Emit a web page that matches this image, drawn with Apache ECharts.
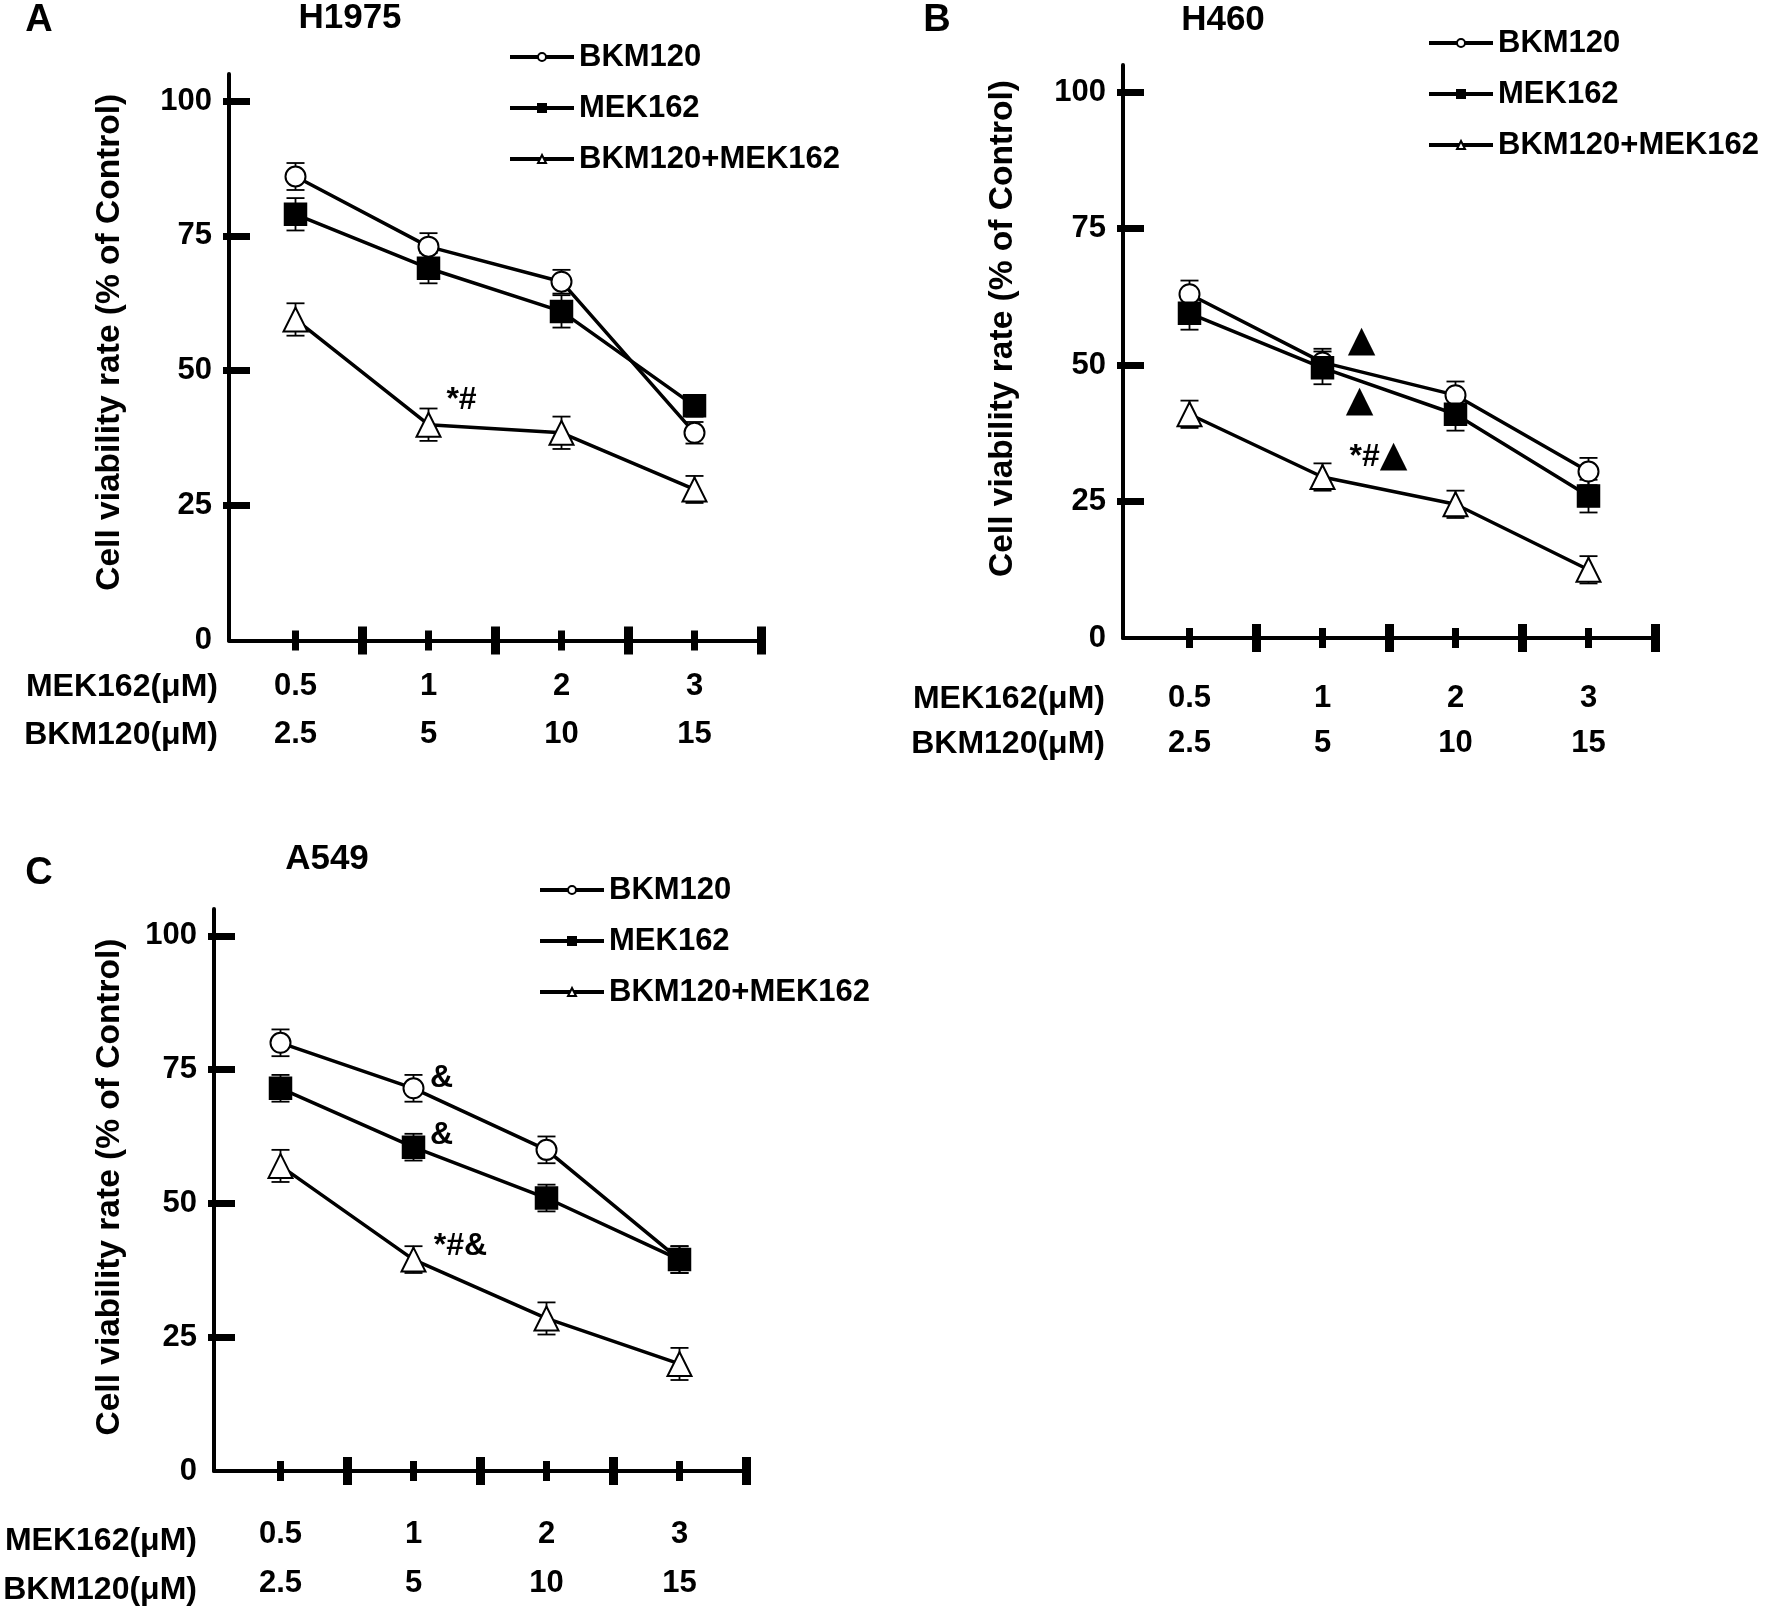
<!DOCTYPE html>
<html style="height: 100%">
<head>
<meta charset="utf-8">
</head>
<body style="height: 100%; margin: 0; background: #fff">
<div id="container" style="width: 1768px; height: 1608px"></div>
<script type="text/javascript" src="https://cdn.jsdelivr.net/npm/echarts@6/dist/echarts.min.js"></script>
<script type="text/javascript">

// dose categories (x axis)
var mekDoses = ['0.5', '1', '2', '3'];
var bkmDoses = ['2.5', '5', '10', '15'];
var seriesNames = ['BKM120', 'MEK162', 'BKM120+MEK162'];
var yTicks = [0, 25, 50, 75, 100];

// H1975
var h1975Bkm = [86, 73, 66.5, 38.5];
var h1975BkmErr = [2.5, 2.5, 2.2, 2];
var h1975Mek = [79, 69, 61, 43.5];
var h1975MekErr = [3, 2.8, 3, 2];
var h1975Combo = [59.5, 40, 38.5, 28];
var h1975ComboErr = [3, 3, 3, 2.5];

// H460
var h460Bkm = [63, 50.5, 44.5, 30.5];
var h460BkmErr = [2.5, 2.5, 2.5, 2.5];
var h460Mek = [59.5, 49.5, 41, 26];
var h460MekErr = [3, 3, 3, 3];
var h460Combo = [41, 29.5, 24.5, 12.5];
var h460ComboErr = [2.5, 2.5, 2.5, 2.5];

// A549
var a549Bkm = [80, 71.5, 60, 39.5];
var a549BkmErr = [2.5, 2.5, 2.5, 2.5];
var a549Mek = [71.5, 60.5, 51, 39.5];
var a549MekErr = [2.5, 2.5, 2.5, 2.5];
var a549Combo = [57, 39.5, 28.5, 20];
var a549ComboErr = [3, 2.5, 3, 3];

var FONT = '"Liberation Sans", Arial, sans-serif';

var panels = [
    {
        letter: 'A', title: 'H1975',
        series: [h1975Bkm, h1975Mek, h1975Combo],
        errs: [h1975BkmErr, h1975MekErr, h1975ComboErr],
        notes: [
            {s: 2, i: 1, text: '*#', dx: 33, dy: -25}
        ],
        grid: {left: 229, top: 74, width: 532, height: 566.5},
        legend: {left: 503, top: 35},
        letterPos: [39, 21], titlePos: [350, 18],
        nameGap: 102, namePad: 30, labelMargin: 22, labelLineHeight: 48,
        rowLabelX: 218, rowLabelY: [687, 735]
    },
    {
        letter: 'B', title: 'H460',
        series: [h460Bkm, h460Mek, h460Combo],
        errs: [h460BkmErr, h460MekErr, h460ComboErr],
        notes: [
            {s: 1, i: 1, text: '▲', dx: 39, dy: -26},
            {s: 1, i: 1, text: '▲', dx: 37, dy: 34},
            {s: 2, i: 1, text: '*#▲', dx: 56, dy: -20}
        ],
        grid: {left: 1123, top: 65, width: 532, height: 573},
        legend: {left: 1422, top: 21},
        letterPos: [937, 21], titlePos: [1223, 20],
        nameGap: 103, namePad: 46, labelMargin: 38, labelLineHeight: 45,
        rowLabelX: 1105, rowLabelY: [699, 744]
    },
    {
        letter: 'C', title: 'A549',
        series: [a549Bkm, a549Mek, a549Combo],
        errs: [a549BkmErr, a549MekErr, a549ComboErr],
        notes: [
            {s: 0, i: 1, text: '&', dx: 28, dy: -10},
            {s: 1, i: 1, text: '&', dx: 28, dy: -12},
            {s: 2, i: 1, text: '*#&', dx: 47, dy: -13}
        ],
        grid: {left: 214, top: 909, width: 532, height: 569},
        legend: {left: 533, top: 868},
        letterPos: [39, 874], titlePos: [327, 859],
        nameGap: 87, namePad: 6, labelMargin: 39, labelLineHeight: 49,
        rowLabelX: 197, rowLabelY: [1541, 1590]
    }
];

var symbols = ['emptyCircle', 'rect', 'emptyTriangle'];
var symbolSizes = [20, 22, 24];

var option = {
    backgroundColor: '#fff',
    animation: false,
    textStyle: {fontFamily: FONT},
    grid: [], xAxis: [], yAxis: [], legend: [], series: [], graphic: []
};

panels.forEach(function (p, k) {
    option.grid.push(p.grid);
    var xBase = k * 3, yBase = k * 2;

    // main x axis with the two rows of dose labels
    option.xAxis.push({
        gridIndex: k, type: 'category', position: 'bottom', data: mekDoses, boundaryGap: true,
        axisLine: {show: true, onZero: false, lineStyle: {color: '#000', width: 4}},
        axisTick: {show: false},
        axisLabel: {
            color: '#000', fontSize: 31, fontWeight: 'bold', fontFamily: FONT,
            margin: p.labelMargin, lineHeight: p.labelLineHeight,
            formatter: function (v, i) { return v + '\n' + bkmDoses[i]; }
        }
    });
    // big ticks at band boundaries, crossing the axis
    option.xAxis.push({
        gridIndex: k, type: 'category', position: 'bottom', data: mekDoses, boundaryGap: true, offset: 14,
        axisLine: {show: false, onZero: false}, axisLabel: {show: false},
        axisTick: {show: true, inside: true, length: 28, lineStyle: {color: '#000', width: 9},
            interval: function (i) { return i > 0; }}
    });
    // small ticks at category centres
    option.xAxis.push({
        gridIndex: k, type: 'category', position: 'bottom', data: mekDoses, boundaryGap: true, offset: 10,
        axisLine: {show: false, onZero: false}, axisLabel: {show: false},
        axisTick: {show: true, inside: true, length: 20, alignWithLabel: true, interval: 0,
            lineStyle: {color: '#000', width: 7}}
    });

    option.yAxis.push({
        gridIndex: k, type: 'value', position: 'left', min: 0, max: 105, interval: 25,
        name: 'Cell viability rate (% of Control)', nameLocation: 'middle', nameGap: p.nameGap,
        nameTextStyle: {color: '#000', fontSize: 33.5, fontWeight: 'bold', fontFamily: FONT,
            padding: [0, 0, 0, p.namePad]},
        axisLine: {show: true, onZero: false, lineStyle: {color: '#000', width: 4}},
        axisTick: {show: false},
        splitLine: {show: false},
        axisLabel: {color: '#000', fontSize: 31, fontWeight: 'bold', fontFamily: FONT, margin: 17,
            customValues: yTicks}
    });
    option.yAxis.push({
        gridIndex: k, type: 'value', position: 'left', min: 0, max: 105, interval: 25, offset: 6,
        axisLine: {show: false, onZero: false}, axisLabel: {show: false}, splitLine: {show: false},
        axisTick: {show: true, inside: true, length: 27, lineStyle: {color: '#000', width: 7},
            customValues: yTicks.slice(1)}
    });

    option.legend.push({
        orient: 'vertical', left: p.legend.left, top: p.legend.top,
        itemWidth: 64, itemHeight: 10, itemGap: 17,
        data: seriesNames,
        lineStyle: {width: 4},
        textStyle: {color: '#000', fontSize: 31, fontWeight: 'bold', fontFamily: FONT, lineHeight: 34},
        selectedMode: false
    });

    p.series.forEach(function (vals, s) {
        var errs = p.errs[s];
        // error bars
        option.series.push({
            type: 'custom', xAxisIndex: xBase, yAxisIndex: yBase, z: 2, silent: true,
            encode: {x: 0, y: [1, 2]},
            data: vals.map(function (v, i) { return [i, v - errs[i], v + errs[i]]; }),
            renderItem: function (params, api) {
                var top = api.coord([api.value(0), api.value(2)]);
                var bot = api.coord([api.value(0), api.value(1)]);
                var w = 9;
                var st = {stroke: '#000', lineWidth: 1.8};
                return {type: 'group', children: [
                    {type: 'line', shape: {x1: top[0], y1: top[1], x2: bot[0], y2: bot[1]}, style: st},
                    {type: 'line', shape: {x1: top[0] - w, y1: top[1], x2: top[0] + w, y2: top[1]}, style: st},
                    {type: 'line', shape: {x1: bot[0] - w, y1: bot[1], x2: bot[0] + w, y2: bot[1]}, style: st}
                ]};
            }
        });
        option.series.push({
            name: seriesNames[s], type: 'line', xAxisIndex: xBase, yAxisIndex: yBase, z: 3,
            data: vals,
            symbol: symbols[s], symbolSize: symbolSizes[s], showAllSymbol: true,
            lineStyle: {color: '#000', width: 3.5},
            itemStyle: {color: '#000', borderColor: '#000', borderWidth: 1.5}
        });
    });

    // significance marks next to data points
    option.series.push({
        type: 'scatter', xAxisIndex: xBase, yAxisIndex: yBase, z: 4, silent: true,
        symbolSize: 1, itemStyle: {color: 'transparent', opacity: 1},
        data: p.notes.map(function (n) {
            return {
                value: [n.i, p.series[n.s][n.i]], name: n.text,
                label: {show: true, position: 'inside', offset: [n.dx, n.dy],
                    formatter: function (prm) { return prm.name.replace('▲', '{t|▲}'); },
                    color: '#000', opacity: 1, fontSize: 32, fontWeight: 'bold', fontFamily: FONT,
                    rich: {t: {fontSize: 36, color: '#000', fontFamily: '"DejaVu Sans", sans-serif'}}}
            };
        })
    });

    option.graphic.push(
        {type: 'text', x: p.letterPos[0], y: p.letterPos[1],
            style: {text: p.letter, fill: '#000', font: 'bold 38px ' + FONT, align: 'center', verticalAlign: 'middle'}},
        {type: 'text', x: p.titlePos[0], y: p.titlePos[1],
            style: {text: p.title, fill: '#000', font: 'bold 35px ' + FONT, align: 'center', verticalAlign: 'middle'}},
        {type: 'text', x: p.rowLabelX, y: p.rowLabelY[0],
            style: {text: 'MEK162(μM)', fill: '#000', font: 'bold 32px ' + FONT, align: 'right', verticalAlign: 'middle'}},
        {type: 'text', x: p.rowLabelX, y: p.rowLabelY[1],
            style: {text: 'BKM120(μM)', fill: '#000', font: 'bold 32px ' + FONT, align: 'right', verticalAlign: 'middle'}}
    );
});

var myChart = echarts.init(document.getElementById('container'));
myChart.setOption(option);

</script>
</body>
</html>
